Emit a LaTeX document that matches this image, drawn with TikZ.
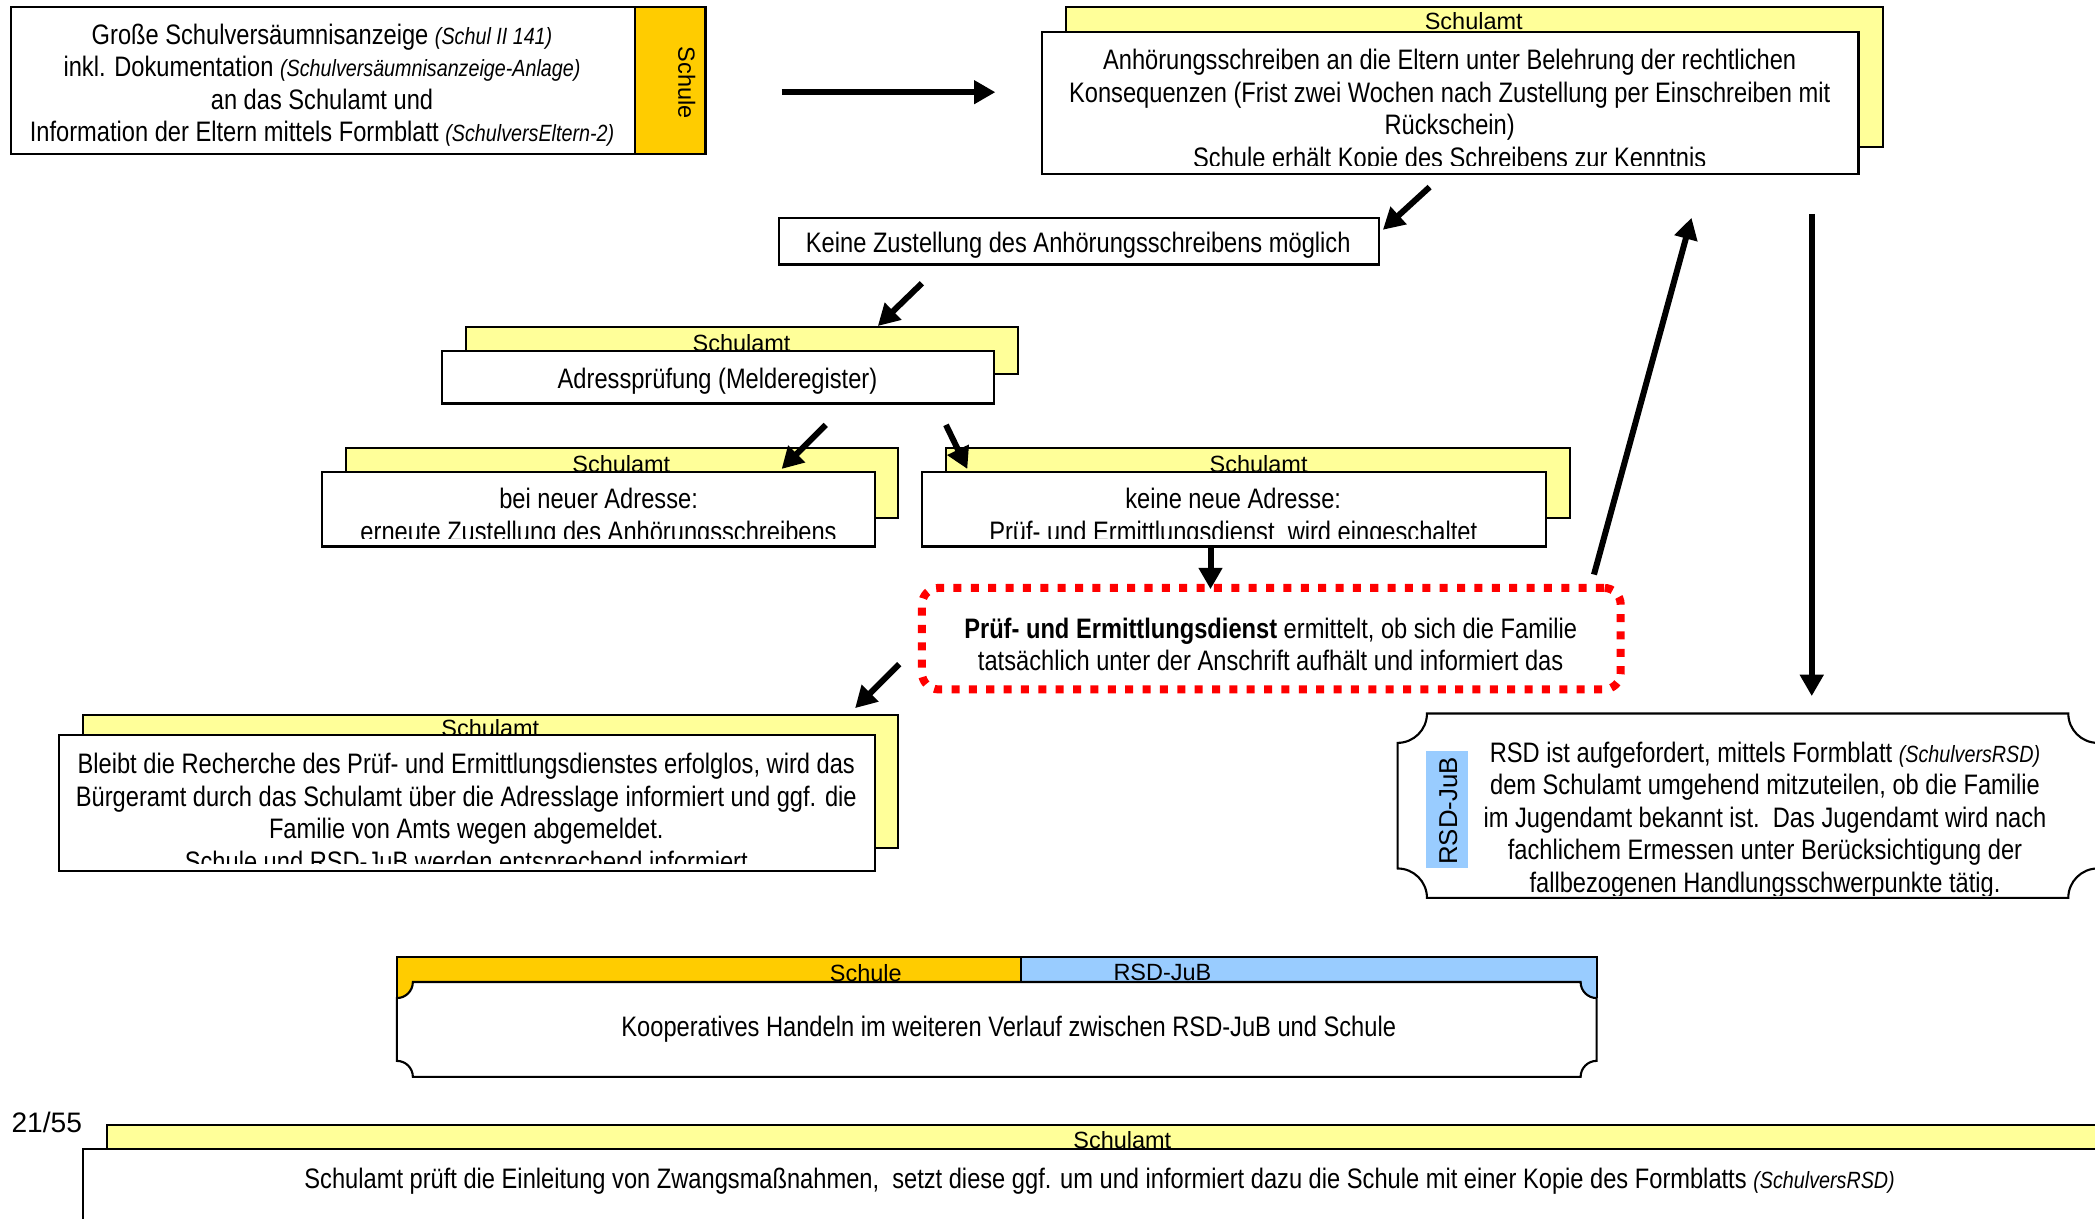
\documentclass[tikz,border=0pt]{standalone}
\usepackage{fontspec}
\setmainfont{Liberation Sans}
\newfontfamily\narrowfont[FakeStretch=0.84]{Liberation Sans}
\usetikzlibrary{arrows.meta,fit}
\definecolor{gelb}{HTML}{FFFF99}
\definecolor{schulorange}{HTML}{FFCC00}
\definecolor{rsdblau}{HTML}{99CCFF}
\newcommand\formular[1]{{\fontsize{10}{12}\selectfont\itshape (#1)}}
\begin{document}
\begin{tikzpicture}[x=0.02cm, y=-0.02cm,
  back/.style={draw, fill=gelb, line width=0.9pt, inner sep=0pt},
  front/.style={draw, fill=white, line width=0.9pt, inner sep=0pt},
  txt/.style={font=\narrowfont\fontsize{12}{13.9}\selectfont, align=center, inner sep=0pt, yshift=-0.045cm},
  lbl/.style={font=\fontsize{10}{12}\selectfont, inner sep=0pt, yshift=-0.02cm},
  pfeil/.style={line width=0.09cm, -{Triangle[length=0.32cm, width=0.34cm]}},
  pruefdienst/.style={draw=red, line width=0.12cm, dash pattern=on 0.12cm off 0.14cm, rounded corners=0.25cm, inner sep=0pt}]

\useasboundingbox (0,0) rectangle (1568,912);

\node[front, fit={(8,5) (528,115)}] (anzeige) {};
\node[draw, fill=schulorange, line width=0.9pt, inner sep=0pt, fit={(475,5) (528,115)}] (anzeigeschule) {};
\node[lbl, rotate=-90] (anzeigelbl) at (514,61) {Schule};
\node[txt] (anzeigetxt) at (241,61.5) {Große Schulversäumnisanzeige \formular{Schul II 141}\\inkl. Dokumentation \formular{Schulversäumnisanzeige-Anlage}\\an das Schulamt und\\Information der Eltern mittels Formblatt \formular{SchulversEltern-2}};

\node[back, fit={(798,5) (1409,110)}] (anhoerungback) {};
\node[lbl] (anhoerunglbl) at (1103,15) {Schulamt};
\node[front, fit={(780,24) (1391,130)}] (anhoerung) {};
\begin{scope}
\clip (780,24) rectangle (1391,124);
\node[txt] (anhoerungtxt) at (1085,81) {Anhörungsschreiben an die Eltern unter Belehrung der rechtlichen\\Konsequenzen (Frist zwei Wochen nach Zustellung per Einschreiben mit\\Rückschein)\\Schule erhält Kopie des Schreibens zur Kenntnis};
\end{scope}

\node[front, fit={(583,163) (1032,198)}] (keine) {};
\node[txt] (keinetxt) at (807,181) {Keine Zustellung des Anhörungsschreibens möglich};

\node[back, fit={(349,245) (762,280)}] (adressback) {};
\node[lbl] (adresslbl) at (555,256) {Schulamt};
\node[front, fit={(331,263) (744,302)}] (adress) {};
\node[txt] (adresstxt) at (537,283) {Adressprüfung (Melderegister)};

\node[back, fit={(259,335) (672,388)}] (neuback) {};
\node[lbl] (neulbl) at (465,346) {Schulamt};
\node[front, fit={(241,353) (655,409)}] (neu) {};
\begin{scope}
\clip (241,353) rectangle (655,403);
\node[txt] (neutxt) at (448,385) {bei neuer Adresse:\\erneute Zustellung des Anhörungsschreibens};
\end{scope}

\node[back, fit={(708,335) (1175,388)}] (keineneuback) {};
\node[lbl] (keineneulbl) at (942,346) {Schulamt};
\node[front, fit={(690,353) (1157,409)}] (keineneu) {};
\begin{scope}
\clip (690,353) rectangle (1157,403);
\node[txt] (keineneutxt) at (923,385) {keine neue Adresse:\\Prüf- und Ermittlungsdienst\ \ wird eingeschaltet};
\end{scope}

\node[pruefdienst, fit={(690,440) (1213,516)}] (pruef) {};
\node[txt] (prueftxt) at (951,480) {\textbf{Prüf- und Ermittlungsdienst} ermittelt, ob sich die Familie\\tatsächlich unter der Anschrift aufhält und informiert das};

\node[back, fit={(62,535) (672,635)}] (erfolglosback) {};
\node[lbl] (erfolgloslbl) at (367,544) {Schulamt};
\node[front, fit={(44,550) (655,652)}] (erfolglos) {};
\begin{scope}
\clip (44,550) rectangle (655,646);
\node[txt] (erfolglostxt) at (349,608) {Bleibt die Recherche des Prüf- und Ermittlungsdienstes erfolglos, wird das\\Bürgeramt durch das Schulamt über die Adresslage informiert und ggf. die\\Familie von Amts wegen abgemeldet.\\Schule und RSD-JuB werden entsprechend informiert};
\end{scope}

\filldraw[fill=white, line width=0.9pt] (1068,534) -- (1548,534) arc[start angle=180, end angle=90, radius=22] -- (1570,650) arc[start angle=270, end angle=180, radius=22] -- (1068,672) arc[start angle=0, end angle=-90, radius=22] -- (1046,556) arc[start angle=90, end angle=0, radius=22] -- cycle;
\node[fill=rsdblau, inner sep=0pt, fit={(1067,562) (1099,650)}] (rsdlblbox) {};
\node[lbl, font=\fontsize{11}{13}\selectfont, rotate=90] (rsdlbl) at (1084,606) {RSD-JuB};
\begin{scope}
\clip (1046,534) rectangle (1570,670);
\node[txt] (rsdtxt) at (1321,611.5) {RSD ist aufgefordert, mittels Formblatt \formular{SchulversRSD}\\dem Schulamt umgehend mitzuteilen, ob die Familie\\im Jugendamt bekannt ist.\ \ Das Jugendamt wird nach\\fachlichem Ermessen unter Berücksichtigung der\\fallbezogenen Handlungsschwerpunkte tätig.};
\end{scope}

\fill[schulorange] (297,716) rectangle (764,748);
\fill[rsdblau] (764,716) rectangle (1195,748);
\draw[line width=0.9pt] (297,747) -- (297,716) -- (1195,716) -- (1195,747);
\draw[line width=0.9pt] (764,716) -- (764,735);
\node[lbl] (kooplbl1) at (648,727) {Schule};
\node[lbl] (kooplbl2) at (870,727) {RSD-JuB};
\filldraw[fill=white, line width=0.9pt] (309,735) -- (1183,735) arc[start angle=180, end angle=90, radius=12] -- (1195,794) arc[start angle=270, end angle=180, radius=12] -- (309,806) arc[start angle=0, end angle=-90, radius=12] -- (297,747) arc[start angle=90, end angle=0, radius=12] -- cycle;
\node[txt] (kooptxt) at (755,768) {Kooperatives Handeln im weiteren Verlauf zwischen RSD-JuB und Schule};

\node[font=\fontsize{12}{14}\selectfont, inner sep=0pt] (seite) at (35,840) {21/55};
\node[back, fit={(80,842) (1590,870)}] (zwangback) {};
\node[lbl] (zwanglbl) at (840,852) {Schulamt};
\node[front, fit={(62,860) (1590,930)}] (zwang) {};
\node[txt] (zwangtxt) at (823,882) {Schulamt prüft die Einleitung von Zwangsmaßnahmen,\ \ setzt diese ggf. um und informiert dazu die Schule mit einer Kopie des Formblatts \formular{SchulversRSD}};

\coordinate (p1a) at (585,69);   \coordinate (p1b) at (745,69);
\coordinate (p2a) at (1070,140); \coordinate (p2b) at (1035,172);
\coordinate (p3a) at (690,212);  \coordinate (p3b) at (657,244);
\coordinate (p4a) at (618,318);  \coordinate (p4b) at (585,351);
\coordinate (p5a) at (708,318);  \coordinate (p5b) at (724,351);
\coordinate (p6a) at (906,410);  \coordinate (p6b) at (906,441);
\coordinate (p7a) at (673,497);  \coordinate (p7b) at (640,530);
\coordinate (p8a) at (1193,430); \coordinate (p8b) at (1266,163);
\coordinate (p9a) at (1356,160); \coordinate (p9b) at (1356,521);

\draw[pfeil] (p1a) -- (p1b);
\draw[pfeil] (p2a) -- (p2b);
\draw[pfeil] (p3a) -- (p3b);
\draw[pfeil] (p4a) -- (p4b);
\draw[pfeil] (p5a) -- (p5b);
\draw[pfeil] (p6a) -- (p6b);
\draw[pfeil] (p7a) -- (p7b);
\draw[pfeil] (p8a) -- (p8b);
\draw[pfeil] (p9a) -- (p9b);

\end{tikzpicture}
\end{document}
